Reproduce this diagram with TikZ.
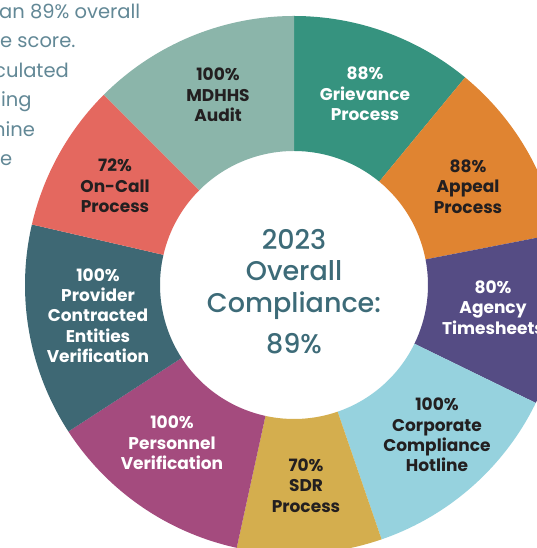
\documentclass[tikz,border=0pt]{standalone}
\usepackage{fontspec}
\setmainfont{Poppins}
\newfontfamily\popmed{Poppins Medium}
\definecolor{cMDHHS}{HTML}{8BB5AA}
\definecolor{cGriev}{HTML}{36937F}
\definecolor{cAppeal}{HTML}{E08431}
\definecolor{cAgency}{HTML}{554C84}
\definecolor{cCorp}{HTML}{96D2DE}
\definecolor{cSDR}{HTML}{D4AE4E}
\definecolor{cPers}{HTML}{A44B7E}
\definecolor{cProv}{HTML}{3E6874}
\definecolor{cOnCall}{HTML}{E4685F}
\definecolor{txtdark}{HTML}{231F20}
\definecolor{txtcenter}{HTML}{3D6B78}
\definecolor{txtbody}{HTML}{628896}
\tikzset{
  lbl/.style={font=\bfseries\fontsize{17}{20.3}\selectfont, align=center, inner sep=0pt},
  dk/.style={lbl, text=txtdark},
  wt/.style={lbl, text=white},
  ctr/.style={font=\popmed\fontsize{27}{31.5}\selectfont, text=txtcenter, inner sep=0pt, anchor=base},
  body/.style={font=\fontsize{19.5}{29.5}\selectfont, text=txtbody, inner sep=0pt, anchor=base west}
}
\begin{document}
\begin{tikzpicture}[x=1pt,y=1pt]
\useasboundingbox (0,0) rectangle (537,548);
\clip (0,0) rectangle (537,548);
\fill[white] (0,0) rectangle (537,548);
% body text (cut off at the left edge)
\node[body] (t1) at (-1,529.5) {an 89\% overall};
\node[body] (t2) at (0,500) {e score.};
\node[body] (t3) at (-6,470.5) {culated};
\node[body] (t4) at (1,441) {ing};
\node[body] (t5) at (-7,411.5) {hine};
\node[body] (t6) at (0,382) {e};
% ring
\coordinate (c) at (294,263);
\begin{scope}[shift={(c)}]
\foreach \a/\b/\col in {90/50.5/cGriev, 50.5/11/cAppeal, 11/-26/cAgency, -26/-71/cCorp, -71/-102.3/cSDR, -102.3/-147/cPers, -147/-193/cProv, -193/-225/cOnCall, -225/-270/cMDHHS}
  \fill[\col] (\a:269) arc[start angle=\a, end angle=\b, radius=269] -- (\b:134) arc[start angle=\b, end angle=\a, radius=134] -- cycle;
\end{scope}
% labels
\node[dk] (mdhhs) at (218,453) {100\%\\MDHHS\\Audit};
\node[wt] (griev) at (365,454) {88\%\\Grievance\\Process};
\node[dk] (appeal) at (468,361.5) {88\%\\Appeal\\Process};
\node[wt] (agency) at (493,240.5) {80\%\\Agency\\Timesheets};
\node[dk] (corp) at (437,113) {100\%\\Corporate\\Compliance\\Hotline};
\node[dk] (sdr) at (306,62.5) {70\%\\SDR\\Process};
\node[wt] (pers) at (172,105) {100\%\\Personnel\\Verification};
\node[wt] (prov) at (98,232.5) {100\%\\Provider\\Contracted\\Entities\\Verification};
\node[dk] (oncall) at (115,362) {72\%\\On-Call\\Process};
% centre text
\node[ctr] (year) at (294,298) {2023};
\node[ctr] (overall) at (294,267) {Overall};
\node[ctr] (compl) at (294,235.7) {Compliance:};
\node[ctr] (pct) at (294,194) {89\%};
\end{tikzpicture}
\end{document}
